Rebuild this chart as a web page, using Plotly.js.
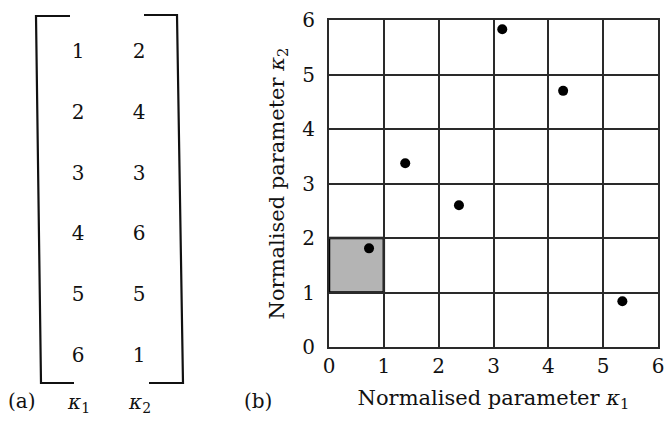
<!DOCTYPE html>
<html>
<head>
<meta charset="utf-8">
<script src="https://cdn.plot.ly/plotly-3.0.1.min.js"></script>
<style>html,body{margin:0;padding:0;background:#fff;}#chart{width:669px;height:421px;}</style>
</head>
<body>
<div id="chart"></div>
<script>
// ---- data ----
const rowIndex = [1, 2, 3, 4, 5, 6];
const kappa1Cells = [1, 2, 3, 4, 5, 6];
const kappa2Cells = [2, 4, 3, 6, 5, 1];
const sampleK1 = [0.73, 1.39, 2.37, 3.16, 4.27, 5.35];
const sampleK2 = [1.81, 3.37, 2.60, 5.83, 4.70, 0.84];
const tickVals = [0, 1, 2, 3, 4, 5, 6];
const columnLabels = ['<i>κ</i><sub>1</sub>', '<i>κ</i><sub>2</sub>'];
const highlightCell = {k1: [0, 1], k2: [1, 2]};

const W = 669, H = 421;
const FONT = 'DejaVu Serif, Liberation Serif, serif';
const px = x => x / W;
const py = y => 1 - y / H;

const matrixTrace = {
  type: 'scatter', mode: 'text', xaxis: 'x2', yaxis: 'y2',
  x: rowIndex.map(() => 1).concat(rowIndex.map(() => 2)),
  y: rowIndex.concat(rowIndex),
  text: kappa1Cells.concat(kappa2Cells).map(String),
  textfont: {family: FONT, size: 20, color: '#111'},
  hoverinfo: 'skip', showlegend: false, cliponaxis: false
};

const pointsTrace = {
  type: 'scatter', mode: 'markers', x: sampleK1, y: sampleK2,
  marker: {color: '#000', size: 10},
  showlegend: false, cliponaxis: false
};

function bracketPath(pts) {
  return 'M' + pts.map(p => px(p[0]) + ',' + py(p[1])).join(' L');
}

const shapes = [
  {type: 'rect', xref: 'x', yref: 'y', layer: 'below',
   x0: highlightCell.k1[0], x1: highlightCell.k1[1], y0: highlightCell.k2[0], y1: highlightCell.k2[1],
   fillcolor: '#b4b4b4', line: {color: '#000', width: 2.5}},
  {type: 'path', xref: 'paper', yref: 'paper', line: {color: '#111', width: 2.2},
   path: bracketPath([[70, 16], [36, 16], [41, 383], [74, 383]])},
  {type: 'path', xref: 'paper', yref: 'paper', line: {color: '#111', width: 2.2},
   path: bracketPath([[144, 15], [177, 15], [183, 383], [149, 383]])}
];

const labelFont = {family: FONT, size: 20, color: '#111'};
const annotations = [
  {xref: 'x2', yref: 'paper', x: 1, y: py(403), text: columnLabels[0], showarrow: false,
   xanchor: 'center', yanchor: 'middle', font: labelFont},
  {xref: 'x2', yref: 'paper', x: 2, y: py(403), text: columnLabels[1], showarrow: false,
   xanchor: 'center', yanchor: 'middle', font: labelFont},
  {xref: 'paper', yref: 'paper', x: px(22), y: py(401), text: '(a)', showarrow: false,
   xanchor: 'center', yanchor: 'middle', font: labelFont},
  {xref: 'paper', yref: 'paper', x: px(258), y: py(401), text: '(b)', showarrow: false,
   xanchor: 'center', yanchor: 'middle', font: labelFont}
];

const axisCommon = {
  range: [0, 6], tickvals: tickVals, showgrid: true, gridcolor: '#2a2a2a', gridwidth: 2,
  zeroline: false, showline: true, linecolor: '#2a2a2a', linewidth: 2, mirror: true,
  ticks: '', tickfont: {family: FONT, size: 20, color: '#111'}, fixedrange: true
};

const layout = {
  width: W, height: H, margin: {l: 0, r: 0, t: 0, b: 0},
  paper_bgcolor: '#fff', plot_bgcolor: '#fff',
  xaxis: Object.assign({}, axisCommon, {
    domain: [px(329), px(658)],
    title: {text: 'Normalised parameter <i>κ</i><sub>1</sub>', font: {family: FONT, size: 21, color: '#111'}, standoff: 13}
  }),
  yaxis: Object.assign({}, axisCommon, {
    domain: [py(347), py(20)],
    ticklabelstandoff: 8,
    title: {text: 'Normalised parameter <i>κ</i><sub>2</sub>', font: {family: FONT, size: 21, color: '#111'}, standoff: 12}
  }),
  xaxis2: {domain: [0, px(230)], range: [-0.279, 3.491], visible: false, fixedrange: true},
  yaxis2: {domain: [0, 1], range: [7.052, 0.128], visible: false, fixedrange: true},
  shapes: shapes,
  annotations: annotations
};

Plotly.newPlot('chart', [matrixTrace, pointsTrace], layout, {displayModeBar: false, staticPlot: true});
</script>
</body>
</html>
